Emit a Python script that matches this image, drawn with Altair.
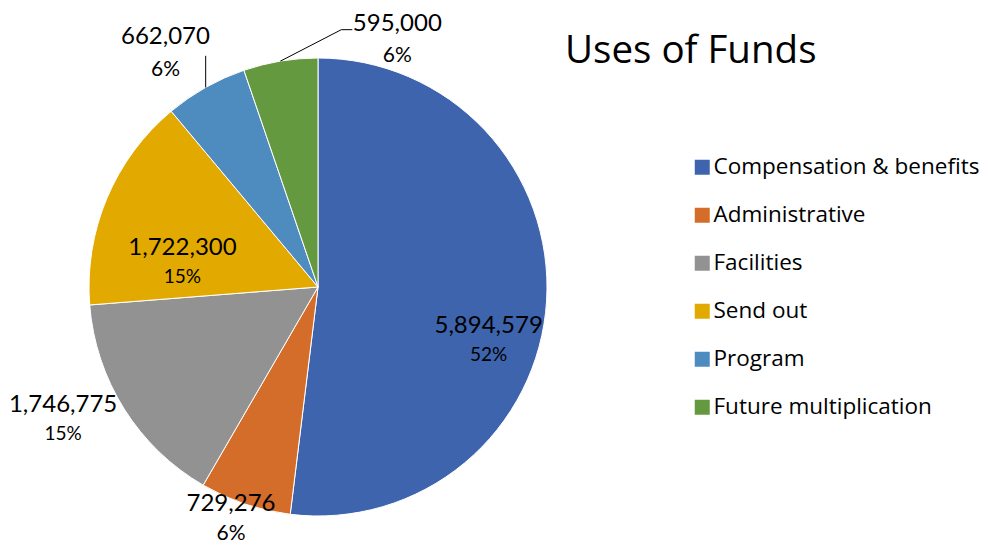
import math
import altair as alt
import pandas as pd

# ---- data ----
categories = ["Compensation & benefits", "Administrative", "Facilities",
              "Send out", "Program", "Future multiplication"]
values = [5894579, 729276, 1746775, 1722300, 662070, 595000]
percent_labels = ["52%", "6%", "15%", "15%", "6%", "6%"]
colors = ["#3E64AE", "#D46D2A", "#929292", "#E2AA00", "#4E8BBF", "#64993F"]

# ---- layout (label placement relative to slice mid-angle) ----
CX, CY, R = 310, 279, 229
label_radius = [175, 234, 281, 141, 293, 275]
label_angle_shift = [9.3, 3.3, 7.3, -6.8, -2.0, 26.2]
pct_gap = [29, 30, 29, 29, 33, 32]
pct_size = [19, 21, 19, 19, 21, 21]
leader = [False, False, False, False, True, True]

total = sum(values)
rows = []
cum = 0.0
for i, (c, v) in enumerate(zip(categories, values)):
    start = cum / total * 360
    cum += v
    end = cum / total * 360
    mid = (start + end) / 2
    ang = math.radians(mid + label_angle_shift[i])
    lx = CX + label_radius[i] * math.sin(ang)
    ly = CY - label_radius[i] * math.cos(ang)
    rows.append(dict(category=c, value=v, idx=i, num=f"{v:,}",
                     pct=percent_labels[i], lx=lx, ly=ly,
                     py=ly + pct_gap[i], psize=pct_size[i], mid=mid))
df = pd.DataFrame(rows)

# leader lines from the slice edge at the mid-angle to the label
lines = []
for r in rows:
    if not leader[r["idx"]]:
        continue
    a = math.radians(r["mid"])
    ex, ey = CX + R * math.sin(a), CY - R * math.cos(a)
    if r["idx"] == 4:
        pts = [(ex, ey), (ex, r["ly"] + 19)]
    else:
        pts = [(ex, ey), (r["lx"] - 56, r["ly"] + 6), (r["lx"] - 45, r["ly"] + 6)]
    for k, (x, y) in enumerate(pts):
        lines.append(dict(seg=r["category"], k=k, x=x, y=y))
lines_df = pd.DataFrame(lines)

FONT = "Lato"
FONT2 = "Open Sans"

pie = alt.Chart(df).mark_arc(outerRadius=R, stroke="white", strokeWidth=1).encode(
    theta=alt.Theta("value:Q", stack=True),
    order=alt.Order("idx:Q"),
    color=alt.Color(
        "category:N",
        scale=alt.Scale(domain=categories, range=colors),
        legend=alt.Legend(
            title=None, orient="none", legendX=683, legendY=148,
            symbolType="square", symbolSize=225, symbolStrokeWidth=0,
            symbolOpacity=1, labelFont=FONT2, labelFontSize=22.5,
            labelColor="#000000", rowPadding=25, labelOffset=0,
            padding=0, labelLimit=400,
        ),
    ),
    x=alt.value(CX), y=alt.value(CY),
)

nums = alt.Chart(df).mark_text(font=FONT, fontSize=24, color="#000000",
                               baseline="middle", align="center").encode(
    x=alt.X("lx:Q", scale=None), y=alt.Y("ly:Q", scale=None), text="num:N")

pcts = alt.Chart(df).mark_text(font=FONT, color="#000000",
                               baseline="middle", align="center").encode(
    x=alt.X("lx:Q", scale=None), y=alt.Y("py:Q", scale=None), text="pct:N",
    size=alt.Size("psize:Q", scale=None, legend=None))

leaders = alt.Chart(lines_df).mark_line(color="#000000", strokeWidth=1).encode(
    x=alt.X("x:Q", scale=None), y=alt.Y("y:Q", scale=None),
    detail="seg:N", order="k:Q")

title = alt.Chart(pd.DataFrame({"t": ["Uses of Funds"]})).mark_text(
    font=FONT2, fontSize=38.5, color="#000000", align="left", baseline="alphabetic"
).encode(x=alt.value(557), y=alt.value(55), text="t:N")

chart = alt.layer(pie, leaders, nums, pcts, title).properties(
    width=974, height=536, autosize=alt.AutoSizeParams(type="none"), padding=0,
    background="white",
).configure_view(stroke=None)

chart.save("out.html", embed_options={"renderer": "svg", "actions": False})
